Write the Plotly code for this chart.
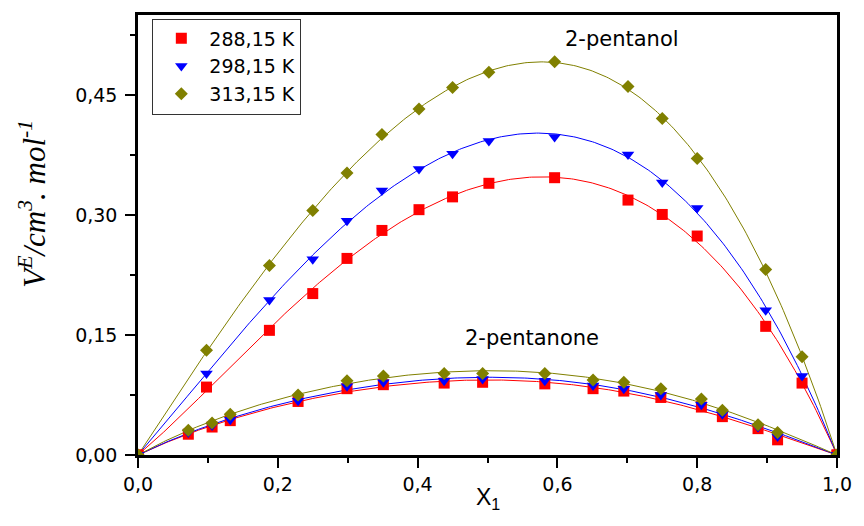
import numpy as np
import plotly.graph_objects as go

# ---------------- data ----------------
temps = ["288,15 K", "298,15 K", "313,15 K"]
colors = ["#FF0000", "#0000FF", "#808000"]
symbols = ["square", "triangle-down", "diamond"]
msizes = [11, 11, 10]

x_pentanol = [0, 0.098, 0.188, 0.250, 0.299, 0.349, 0.402, 0.450, 0.502,
              0.596, 0.701, 0.750, 0.800, 0.898, 0.950, 1.0]
v288_pentanol = [0, 0.085, 0.156, 0.202, 0.246, 0.281, 0.307, 0.323, 0.340,
                 0.347, 0.319, 0.301, 0.274, 0.161, 0.090, 0]
v298_pentanol = [0, 0.102, 0.194, 0.245, 0.293, 0.331, 0.358, 0.377, 0.393,
                 0.398, 0.376, 0.341, 0.309, 0.181, 0.099, 0]
v313_pentanol = [0, 0.131, 0.237, 0.306, 0.353, 0.401, 0.433, 0.460, 0.479,
                 0.492, 0.461, 0.421, 0.371, 0.232, 0.123, 0]

x_pentanone = [0, 0.072, 0.106, 0.132, 0.229, 0.299, 0.351, 0.438, 0.493,
               0.582, 0.651, 0.695, 0.748, 0.806, 0.836, 0.887, 0.915, 1.0]
v288_pentanone = [0, 0.026, 0.035, 0.043, 0.067, 0.083, 0.088, 0.090, 0.091,
                  0.089, 0.083, 0.080, 0.072, 0.060, 0.048, 0.033, 0.019, 0]
v298_pentanone = [0, 0.028, 0.037, 0.044, 0.068, 0.086, 0.091, 0.093, 0.095,
                  0.093, 0.087, 0.083, 0.075, 0.063, 0.051, 0.035, 0.023, 0]
v313_pentanone = [0, 0.031, 0.040, 0.051, 0.075, 0.093, 0.099, 0.102, 0.102,
                  0.102, 0.094, 0.091, 0.083, 0.070, 0.056, 0.038, 0.028, 0]

y_tickvals = [0, 0.15, 0.30, 0.45]
y_ticktext = ["0,00", "0,15", "0,30", "0,45"]
y_minor = [0.075, 0.225, 0.375, 0.525]
x_tickvals = [0, 0.2, 0.4, 0.6, 0.8, 1.0]
x_ticktext = ["0,0", "0,2", "0,4", "0,6", "0,8", "1,0"]
x_minor = [0.1, 0.3, 0.5, 0.7, 0.9]

pentanol = [v288_pentanol, v298_pentanol, v313_pentanol]
pentanone = [v288_pentanone, v298_pentanone, v313_pentanone]


def rk_fit(x, v, order):
    """Redlich-Kister least-squares fit, returns smooth curve."""
    x = np.asarray(x, float)
    v = np.asarray(v, float)
    A = np.column_stack([x * (1 - x) * (2 * x - 1) ** k for k in range(order + 1)])
    coef, *_ = np.linalg.lstsq(A, v, rcond=None)
    xs = np.linspace(0, 1, 301)
    B = np.column_stack([xs * (1 - xs) * (2 * xs - 1) ** k for k in range(order + 1)])
    return xs, B @ coef


fig = go.Figure()

# fitted lines
for i in range(3):
    for xd, vd, order in [(x_pentanol, pentanol[i], 3), (x_pentanone, pentanone[i], 3)]:
        xs, ys = rk_fit(xd, vd, order)
        fig.add_trace(go.Scatter(x=xs, y=ys, mode="lines",
                                 line=dict(color=colors[i], width=1),
                                 showlegend=False, hoverinfo="skip"))

# markers
for i in range(3):
    fig.add_trace(go.Scatter(x=x_pentanol, y=pentanol[i], mode="markers",
                             name=temps[i],
                             marker=dict(symbol=symbols[i], size=msizes[i],
                                         color=colors[i], line=dict(width=0))))
    fig.add_trace(go.Scatter(x=x_pentanone, y=pentanone[i], mode="markers",
                             showlegend=False,
                             marker=dict(symbol=symbols[i], size=msizes[i],
                                         color=colors[i], line=dict(width=0))))

tickfont = dict(family="DejaVu Sans", size=19, color="black")

fig.update_xaxes(range=[0, 1], showgrid=False, zeroline=False,
                 showline=True, linecolor="black", linewidth=2.5, mirror=True,
                 ticks="outside", ticklen=10, tickwidth=2, tickcolor="black",
                 tickvals=x_tickvals, ticktext=x_ticktext, tickfont=tickfont,
                 minor=dict(tickvals=x_minor, ticks="outside", ticklen=5,
                            tickwidth=2, tickcolor="black", showgrid=False))
fig.update_yaxes(range=[0, 0.5506], showgrid=False, zeroline=False,
                 showline=True, linecolor="black", linewidth=2.5, mirror=True,
                 ticks="outside", ticklen=10, tickwidth=2, tickcolor="black",
                 tickvals=y_tickvals, ticktext=y_ticktext, tickfont=tickfont,
                 ticklabelstandoff=4,
                 minor=dict(tickvals=y_minor, ticks="outside", ticklen=5,
                            tickwidth=2, tickcolor="black", showgrid=False))

fig.add_annotation(x=0.692, y=0.521, xref="x", yref="y", text="2-pentanol",
                   xanchor="center", yanchor="middle", showarrow=False,
                   font=dict(family="DejaVu Sans", size=21, color="black"))
fig.add_annotation(x=0.563, y=0.146, xref="x", yref="y", text="2-pentanone",
                   xanchor="center", yanchor="middle", showarrow=False,
                   font=dict(family="DejaVu Sans", size=21, color="black"))

fig.add_annotation(x=-0.151, y=0.572, xref="paper", yref="paper",
                   text="<i>V<sup>E</sup>/cm<sup>3</sup>. mol<sup>-1</sup></i>",
                   textangle=-90, showarrow=False,
                   xanchor="center", yanchor="middle",
                   font=dict(family="Liberation Serif", size=31, color="black"))
fig.add_annotation(x=0.5, y=-0.098, xref="paper", yref="paper",
                   text="X<sub>1</sub>", showarrow=False,
                   xanchor="center", yanchor="middle",
                   font=dict(family="Liberation Sans", size=23, color="black"))

fig.update_layout(
    width=864, height=526,
    margin=dict(l=137.5, r=18, t=13.5, b=70.5),
    paper_bgcolor="white", plot_bgcolor="white",
    legend=dict(x=0.0205, y=0.992, xanchor="left", yanchor="top",
                bordercolor="#333333", borderwidth=1, bgcolor="white",
                font=dict(family="DejaVu Sans", size=19, color="black"),
                itemwidth=46, tracegroupgap=0),
)

fig.write_html("out.html")
